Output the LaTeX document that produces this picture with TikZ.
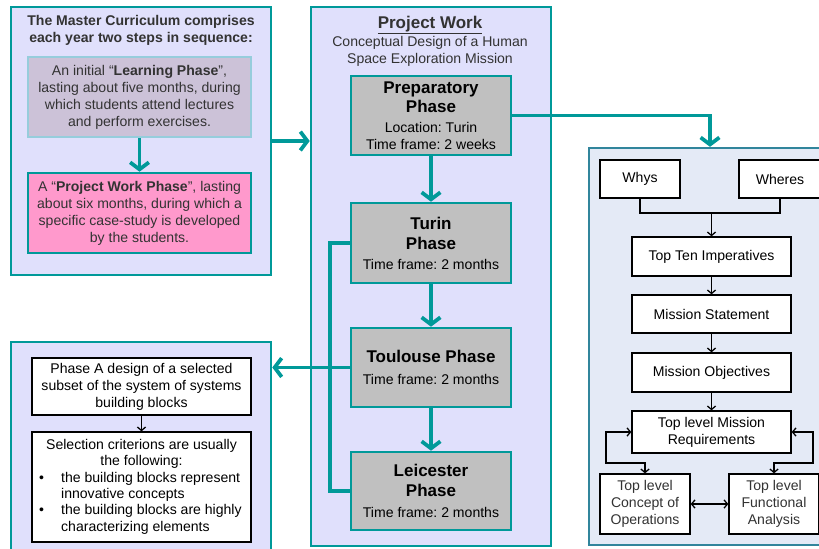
\documentclass[tikz,border=0pt]{standalone}
\usepackage{fontspec}
\setmainfont{Liberation Sans}
\usepackage{xcolor}
\usetikzlibrary{arrows.meta}
\frenchspacing

\definecolor{tealline}{RGB}{0,153,153}
\definecolor{lavender}{RGB}{224,224,252}
\definecolor{learnfill}{RGB}{204,194,216}
\definecolor{learnedge}{RGB}{150,205,220}
\definecolor{pinkfill}{RGB}{255,153,204}
\definecolor{phasegrey}{RGB}{192,192,192}
\definecolor{sysfill}{RGB}{228,234,246}
\definecolor{sysedge}{RGB}{49,133,156}
\definecolor{darktext}{RGB}{51,51,51}

\newcommand{\ptitle}[1]{{\fontsize{14.5}{16}\selectfont\bfseries #1}}

\tikzset{
  panel/.style={draw=tealline, line width=2.2pt, fill=lavender},
  phasebox/.style={draw=tealline, line width=2.2pt, fill=phasegrey, minimum width=4.8cm, align=center},
  plainbox/.style={draw=black, line width=1.1pt, fill=white, align=center},
  tealarrow/.style={draw=tealline, line width=3.2pt, -{Straight Barb[length=6pt,width=16pt]}},
  tealwire/.style={draw=tealline, line width=3.2pt},
  blackarrow/.style={line width=1.1pt, -{Straight Barb[length=3pt,width=7pt]}},
  blackboth/.style={line width=1.1pt, {Straight Barb[length=3pt,width=7pt]}-{Straight Barb[length=3pt,width=7pt]}},
  blackwire/.style={line width=1.1pt}
}

\begin{document}
\begin{tikzpicture}[x=0.03cm, y=-0.03cm,
    every node/.style={font=\fontsize{12}{14.5}\selectfont, inner sep=0pt}]
    \useasboundingbox (0,0) rectangle (819,548);

    % curriculum
    \node[panel, minimum width=7.8cm, minimum height=8.04cm] (curric) at (141,141) {};
    \node[text=darktext, font=\fontsize{12}{14.5}\selectfont\bfseries, align=center] (currtitle) at (141,30)
        {The Master Curriculum comprises\\each year two steps in sequence:};
    \node[draw=learnedge, line width=2pt, fill=learnfill, text=darktext, align=center,
        minimum width=6.69cm, minimum height=2.4cm] (learning) at (139.5,97)
        {An initial “\textbf{Learning Phase}”,\\lasting about five months, during\\which students attend lectures\\and perform exercises.};
    \node[draw=tealline, line width=2.2pt, fill=pinkfill, text=darktext, align=center,
        minimum width=6.69cm, minimum height=2.4cm] (pwphase) at (139.5,213)
        {A “\textbf{Project Work Phase}”, lasting\\about six months, during which a\\specific case-study is developed\\by the students.};
    \draw[tealarrow] (learning) -- (pwphase);

    % project work
    \node[panel, minimum width=7.2cm, minimum height=16.17cm] (projwork) at (431,276.5) {};
    \node[text=darktext, font=\fontsize{14.5}{16}\selectfont\bfseries] (pwtitle) at (430,25) {\underline{Project Work}};
    \node[text=darktext, align=center] (pwsub) at (430,51) {Conceptual Design of a Human\\Space Exploration Mission};

    \node[phasebox, minimum height=2.37cm] (prep) at (431,115.5)
        {\ptitle{Preparatory}\\[2pt]\ptitle{Phase}\\[2.5pt]Location: Turin\\Time frame: 2 weeks};
    \node[phasebox, minimum height=2.4cm] (turin) at (431,243)
        {\ptitle{Turin}\\[2.5pt]\ptitle{Phase}\\[2.5pt]Time frame: 2 months};
    \node[phasebox, minimum height=2.37cm] (toulouse) at (431,367.5)
        {\ptitle{Toulouse Phase}\\[4pt]Time frame: 2 months};
    \node[phasebox, minimum height=2.34cm] (leicester) at (431,491)
        {\ptitle{Leicester}\\[2.5pt]\ptitle{Phase}\\[4pt]Time frame: 2 months};

    \draw[tealarrow] (curric.east) -- (curric.east -| projwork.west);
    \draw[tealarrow] (prep) -- (turin);
    \draw[tealarrow] (turin) -- (toulouse);
    \draw[tealarrow] (toulouse) -- (leicester);
    \draw[tealwire] (turin.west) -- ++(-20,0) |- (leicester.west);

    % outcome
    \node[panel, minimum width=7.8cm, minimum height=6.3cm] (outcome) at (141,447) {};
    \node[plainbox, minimum width=6.57cm, minimum height=1.71cm] (phasea) at (141.5,386.5)
        {Phase A design of a selected\\subset of the system of systems\\building blocks};
    \node[plainbox, minimum width=6.57cm, minimum height=3.3cm, font=\fontsize{12}{14}\selectfont] (criteria) at (141.5,487)
        {\begin{tabular}{@{}c@{\hspace{14.6pt}}l@{}}
         \multicolumn{2}{c}{Selection criterions are usually}\\
         \multicolumn{2}{c}{the following:}\\
         • & the building blocks represent\\
           & innovative concepts\\
         • & the building blocks are highly\\
           & characterizing elements
         \end{tabular}};
    \draw[blackarrow] (phasea) -- (criteria);
    \draw[tealarrow] (toulouse.west) -- (toulouse.west -| outcome.east);

    % mission analysis
    \node[draw=sysedge, line width=2pt, fill=sysfill, minimum width=7.26cm, minimum height=11.91cm] (mission) at (710,346.5) {};
    \draw[tealarrow] (prep.east) -| (mission.north);

    \node[plainbox, minimum width=2.4cm, minimum height=1.14cm] (whys) at (640,179) {Whys};
    \node[plainbox, minimum width=2.46cm, minimum height=1.14cm] (wheres) at (780,179) {Wheres};
    \node[plainbox, minimum width=4.77cm, minimum height=1.17cm] (topten) at (711.5,256.5) {Top Ten Imperatives};
    \node[plainbox, minimum width=4.77cm, minimum height=1.14cm] (statement) at (711.5,314) {Mission Statement};
    \node[plainbox, minimum width=4.77cm, minimum height=1.17cm] (objectives) at (711.5,372.5) {Mission Objectives};
    \node[plainbox, minimum width=4.77cm, minimum height=1.26cm] (requirements) at (711.5,432) {Top level Mission\\Requirements};
    \node[plainbox, text=darktext, minimum width=2.7cm, minimum height=1.8cm] (conops) at (645,504) {Top level\\Concept of\\Operations};
    \node[plainbox, text=darktext, minimum width=2.7cm, minimum height=1.8cm] (funcan) at (774,504) {Top level\\Functional\\Analysis};

    \coordinate (merge) at (711.5,213);
    \coordinate (leftloop) at (606,463);
    \coordinate (rightloop) at (813,463);

    \draw[blackwire] (whys.south) |- (merge) -| (wheres.south);
    \draw[blackarrow] (merge) -- (topten);
    \draw[blackarrow] (topten) -- (statement);
    \draw[blackarrow] (statement) -- (objectives);
    \draw[blackarrow] (objectives) -- (requirements);
    \draw[blackboth] (requirements.west) -| (leftloop) -| (conops.north);
    \draw[blackboth] (requirements.east) -| (rightloop) -| (funcan.north);
    \draw[blackboth] (conops) -- (funcan);
\end{tikzpicture}
\end{document}
